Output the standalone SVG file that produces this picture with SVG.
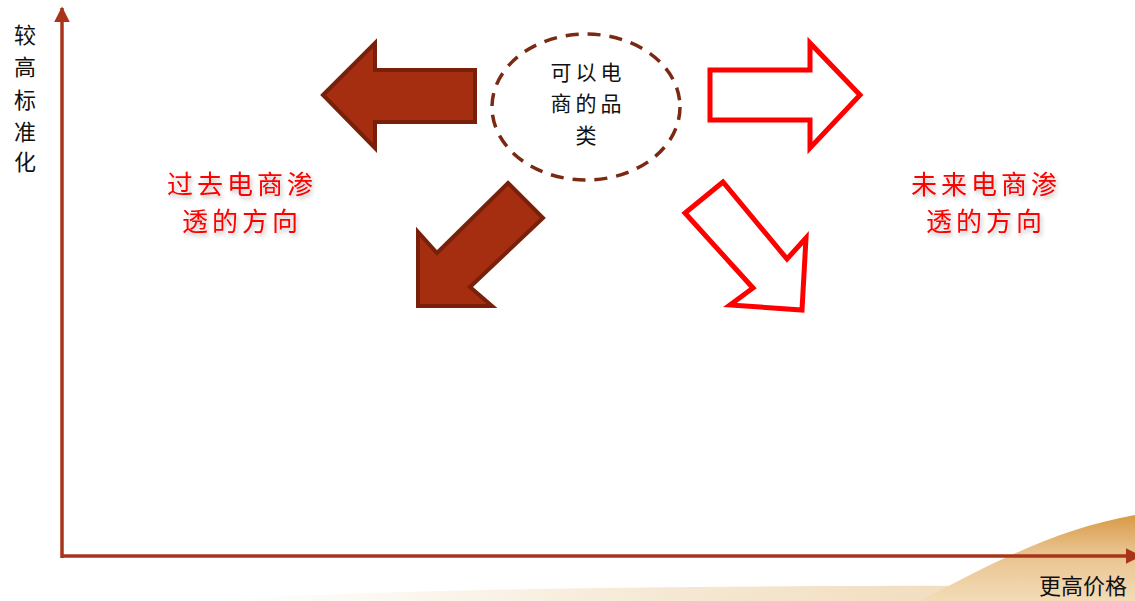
<svg xmlns="http://www.w3.org/2000/svg" width="1135" height="601" viewBox="0 0 1135 601">
<defs>
<style>
.axis{stroke:#a8341a;stroke-width:3.5;fill:none}
.past{fill:#a52e10;stroke:#78200a;stroke-width:4;stroke-linejoin:miter}
.future{fill:#ffffff;stroke:#ff0000;stroke-width:5;stroke-linejoin:miter}
.lbl{font-family:"Noto Sans CJK SC","Noto Sans CJK JP",sans-serif;fill:#111}
.red{font-family:"Noto Sans CJK SC","Noto Sans CJK JP",sans-serif;fill:#ff0000;font-size:26px;letter-spacing:4px;text-anchor:middle;filter:url(#sh)}
</style>
<filter id="sh" x="-10%" y="-30%" width="130%" height="170%">
<feGaussianBlur in="SourceAlpha" stdDeviation="2"/>
<feOffset dx="2" dy="3"/>
<feComponentTransfer><feFuncA type="linear" slope="0.25"/></feComponentTransfer>
<feMerge><feMergeNode/><feMergeNode in="SourceGraphic"/></feMerge>
</filter>
<linearGradient id="gold" x1="0" y1="0" x2="0" y2="1">
<stop offset="0" stop-color="#d89a45"/>
<stop offset="0.4" stop-color="#e8c08a"/>
<stop offset="1" stop-color="#f3dcb8"/>
</linearGradient>
<linearGradient id="beige" x1="0" y1="0" x2="1" y2="0">
<stop offset="0" stop-color="#f7ead8" stop-opacity="0"/>
<stop offset="0.5" stop-color="#f3e2c8" stop-opacity="0.8"/>
<stop offset="1" stop-color="#efd6b0"/>
</linearGradient>
<marker id="ah" viewBox="0 0 10 10" refX="9" refY="5" markerWidth="4.5" markerHeight="4.5" orient="auto">
<path d="M0,0 L10,5 L0,10 Z" fill="#a8341a"/>
</marker>
</defs>
<rect width="1135" height="601" fill="#ffffff"/>
<g id="background">
<path d="M200,601 C400,588 700,585 1135,586 L1135,601 Z" fill="url(#beige)"/>
<path d="M920,601 C980,570 1050,530 1135,515 L1135,601 Z" fill="url(#gold)"/>
</g>
<g id="connectors">
<line class="axis" x1="62" y1="558" x2="62" y2="8" marker-end="url(#ah)"/>
<line class="axis" x1="61" y1="556" x2="1140" y2="556" marker-end="url(#ah)"/>
</g>
<g id="y-label">
<text class="lbl" font-size="22" text-anchor="middle"><tspan x="25" y="43">较</tspan><tspan x="25" y="75">高</tspan><tspan x="25" y="108">标</tspan><tspan x="25" y="140">准</tspan><tspan x="25" y="170">化</tspan></text>
</g>
<g id="x-label">
<text class="lbl" font-size="22" x="1083" y="594" text-anchor="middle">更高价格</text>
</g>
<g id="center">
<ellipse cx="586" cy="107" rx="94" ry="73" fill="none" stroke="#7a2a12" stroke-width="3.5" stroke-dasharray="13,9"/>
<text class="lbl" font-size="21" text-anchor="middle" letter-spacing="4"><tspan x="588" y="80">可以电</tspan><tspan x="588" y="111">商的品</tspan><tspan x="588" y="143">类</tspan></text>
</g>
<g id="arrow-past-left">
<polygon class="past" points="323,95 375,43 375,70 475,70 475,122 375,122 375,148"/>
</g>
<g id="arrow-past-down">
<polygon class="past" points="508,183 543,218 470,287 492,306 418,306 418,232 437,253"/>
</g>
<g id="arrow-future-right">
<polygon class="future" points="860,95 810,43 810,70 710,70 710,120 810,120 810,148"/>
</g>
<g id="arrow-future-down">
<polygon class="future" points="723,182 685,213 753,288 730,305 802,310 806,238 787,259"/>
</g>
<g id="label-past">
<text class="red"><tspan x="242" y="194">过去电商渗</tspan><tspan x="242" y="231">透的方向</tspan></text>
</g>
<g id="label-future">
<text class="red"><tspan x="986" y="194">未来电商渗</tspan><tspan x="986" y="231">透的方向</tspan></text>
</g>
</svg>
